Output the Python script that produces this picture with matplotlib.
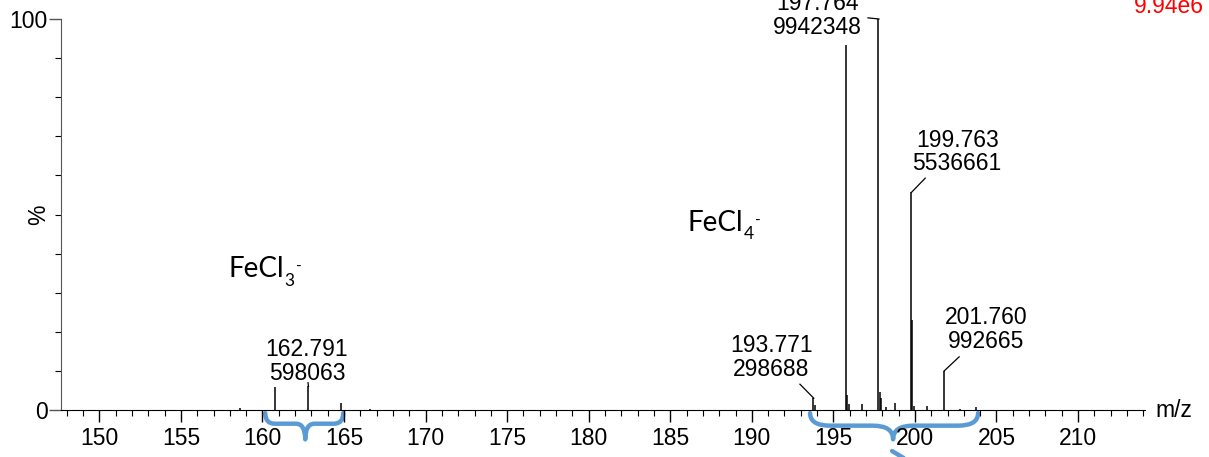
import matplotlib
matplotlib.use('Agg')
import matplotlib.pyplot as plt
from matplotlib.path import Path
from matplotlib.patches import PathPatch

plt.rcParams['font.family'] = ['Liberation Sans', 'DejaVu Sans']

# spectrum (m/z, counts)
mz = [158.6, 160.79, 162.791, 164.79, 166.6, 193.771, 193.85, 195.767, 195.85, 195.95,
      196.77, 197.764, 197.85, 197.95, 198.20, 198.77, 199.763, 199.85, 199.95,
      200.77, 201.760, 202.77, 203.76]
counts = [40000, 585000, 598063, 180000, 30000, 298688, 120000, 9280000, 380000, 150000,
          150000, 9942348, 460000, 300000, 80000, 180000, 5536661, 2300000, 100000,
          90000, 992665, 30000, 80000]

# labelled peaks
label_mz = [162.791, 193.771, 197.764, 199.763, 201.760]
label_counts = [598063, 298688, 9942348, 5536661, 992665]

base_peak = max(counts)
pct = [c / base_peak * 100 for c in counts]

fig = plt.figure(figsize=(12.09, 4.57), dpi=100)
ax = fig.add_axes([0.0505, 0.1028, 0.8965, 0.8556])

ax.vlines(mz, 0, pct, color='black', lw=1.1)

ax.set_xlim(147.65, 214.1)
ax.set_ylim(0, 100)
ax.spines['top'].set_visible(False)
ax.spines['right'].set_visible(False)
ax.spines['left'].set_color('#555555')

ax.set_xticks(range(150, 215, 5))
ax.set_xticks(range(148, 215), minor=True)
ax.set_yticks([0, 100])
ax.set_yticks(range(10, 100, 10), minor=True)
ax.tick_params(axis='both', which='major', length=8.5, width=1, labelsize=16.5, pad=4)
ax.tick_params(axis='both', which='minor', length=4.5, width=0.8)
ax.tick_params(axis='y', colors='#555555', labelcolor='black', pad=1)
ax.text(-0.021, 0.5, '%', rotation=90, ha='center', va='center', fontsize=16.5,
        transform=ax.transAxes)

# peak labels with leader lines: (text x, text y, leader start x, leader start y)
layout = {
    162.791: (162.72, 12.4, 162.791, 7.0),
    193.771: (191.18, 13.5, 192.95, 6.6),
    197.764: (194.03, 100.8, 197.12, 100.3),
    199.763: (202.59, 66.0, 200.63, 59.3),
    201.760: (204.37, 20.5, 202.71, 13.6),
}
for m, c in zip(label_mz, label_counts):
    tx, ty, sx, sy = layout[m]
    ax.text(tx, ty, f'{m:.3f}\n{c}', ha='center', va='center', fontsize=16.5,
            linespacing=1.05, clip_on=False)
    p = c / base_peak * 100
    ax.plot([sx, m + 0.03], [sy, min(p, 100.3)], color='black', lw=0.9, clip_on=False)


def formula(x, y, n):
    fam = ['Lato', 'DejaVu Sans']
    t = ax.text(x, y, 'FeCl', va='baseline', ha='left', family=fam, fontsize=20)
    s = ax.annotate(n, xy=(1, 0), xycoords=t, xytext=(0.5, -2.5), textcoords='offset points',
                    va='baseline', ha='left', family=fam, fontsize=12.5)
    ax.annotate('-', xy=(1, 1), xycoords=(s, t), xytext=(1, -8), textcoords='offset points',
                va='center', ha='left', family=fam, fontsize=11)


formula(157.9, 34.0, '3')
formula(186.04, 45.8, '4')

fig.text(0.9955, 0.985, '9.94e6', color='red', fontsize=16.5, ha='right', va='center')
fig.text(0.956, 0.1028, 'm/z', fontsize=16.5, ha='left', va='center')


# blue curly braces under the axis
def brace(x0, x1, xt, ytop, ymid, ytip):
    q = (x1 - x0) * 0.12
    verts = [(x0, ytop), (x0, ymid), (x0 + q, ymid),
             (xt - q, ymid), (xt, ymid), (xt, ytip),
             (xt, ymid), (xt + q, ymid),
             (x1 - q, ymid), (x1, ymid), (x1, ytop)]
    codes = [Path.MOVETO, Path.CURVE3, Path.CURVE3,
             Path.LINETO, Path.CURVE3, Path.CURVE3,
             Path.CURVE3, Path.CURVE3,
             Path.LINETO, Path.CURVE3, Path.CURVE3]
    patch = PathPatch(Path(verts, codes), transform=ax.get_xaxis_transform(),
                      fill=False, edgecolor='#5B9BD5', lw=3.2, clip_on=False,
                      capstyle='round', joinstyle='round')
    ax.add_patch(patch)


brace(160.17, 164.95, 162.62, -0.008, -0.035, -0.075)
brace(193.57, 203.87, 198.66, -0.008, -0.040, -0.075)
ax.plot([198.6, 199.6], [-0.105, -0.13], transform=ax.get_xaxis_transform(),
        color='#5B9BD5', lw=3.2, clip_on=False, solid_capstyle='round')

plt.savefig('out.png')
